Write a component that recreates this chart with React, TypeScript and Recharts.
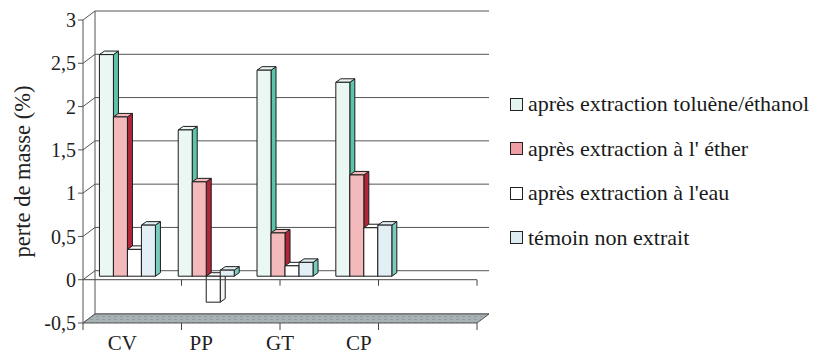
import React from 'react';
import { BarChart, Bar, XAxis, YAxis, CartesianGrid, ReferenceLine } from 'recharts';

const categories = ['CV', 'PP', 'GT', 'CP', ''];
const tolueneEthanol = [2.56, 1.69, 2.38, 2.24, null];
const ether = [1.84, 1.09, 0.5, 1.17, null];
const eau = [0.31, -0.3, 0.12, 0.56, null];
const temoin = [0.59, 0.07, 0.16, 0.59, null];
const yTicks = [-0.5, 0, 0.5, 1, 1.5, 2, 2.5, 3];
const boundaries = [0, 1, 2, 3, 4, 5];

const seriesNames = [
  'après extraction toluène/éthanol',
  "après extraction à l' éther",
  "après extraction à l'eau",
  'témoin non extrait',
];

const data = categories.map((name, i) => ({
  name,
  tol: tolueneEthanol[i],
  eth: ether[i],
  eau: eau[i],
  tem: temoin[i],
}));

const Y_MIN = -0.5;
const Y_MAX = 3;

// 3d look: back wall offset and bar depth
const DX = 12;
const DY = 9;
const BOX = 5;
const BOY = 3.5;
const BD = 5;
const BDH = 3.5;
const FONT = "'Liberation Serif', 'DejaVu Serif', Times, serif";

const series = [
  { key: 'tol', front: '#eaf7f3', side: '#5cc4ab', legend: '#e4f4ef' },
  { key: 'eth', front: '#f3b9bb', side: '#b3263a', legend: '#ee9ea4' },
  { key: 'eau', front: '#ffffff', side: '#f4f4f4', legend: '#ffffff' },
  { key: 'tem', front: '#e2eff5', side: '#78cbbd', legend: '#dcecf2' },
];

const bar3d = (front: string, side: string) => (props: any) => {
  const { x, y, width, height } = props;
  if (x == null || y == null || height == null || isNaN(height) || height === 0) return <g />;
  const t = Math.min(y, y + height) - BOY;
  const h = Math.abs(height);
  const l = x + BOX;
  const w = width;
  return (
    <g stroke="#1c1c1c" strokeWidth={1} strokeLinejoin="round">
      <polygon points={`${l + w},${t} ${l + w + BD},${t - BDH} ${l + w + BD},${t + h - BDH} ${l + w},${t + h}`} fill={side} />
      <polygon points={`${l},${t} ${l + BD},${t - BDH} ${l + w + BD},${t - BDH} ${l + w},${t}`} fill={front} />
      <rect x={l} y={t} width={w} height={h} fill={front} />
    </g>
  );
};

const gridLine = (p: any) => {
  const { x1, y1, x2, y2, key } = p;
  return (
    <path
      key={key}
      d={`M${x1},${y1} L${x1 + DX},${y1 - DY} L${x2 + DX},${y2 - DY}`}
      stroke="#555"
      strokeWidth={1}
      fill="none"
    />
  );
};

const floorShape = (p: any) => {
  const { x1, y1, x2, y2 } = p;
  return (
    <g>
      <defs>
        <pattern id="floorTex" width="6" height="3" patternUnits="userSpaceOnUse">
          <rect width="6" height="3" fill="#a8b1b3" />
          <rect x="0" y="1" width="3" height="1" fill="#929b9e" />
        </pattern>
      </defs>
      <polygon
        points={`${x1},${y1} ${x2},${y2} ${x2 + DX},${y2 - DY} ${x1 + DX},${y1 - DY}`}
        fill="url(#floorTex)"
        stroke="#555"
        strokeWidth={1}
      />
    </g>
  );
};

// vertical reference at a category boundary: back wall edge (first/last) and tick marks
const boundaryShape = (edge: boolean, zeroTick: boolean) => (p: any) => {
  const { x1, y1, y2 } = p;
  const top = Math.min(y1, y2);
  const bottom = Math.max(y1, y2);
  const yZero = bottom - ((0 - Y_MIN) / (Y_MAX - Y_MIN)) * (bottom - top);
  return (
    <g stroke="#444" strokeWidth={1}>
      {edge && <line x1={x1 + DX} y1={top - DY} x2={x1 + DX} y2={bottom - DY} stroke="#555" />}
      {zeroTick && <line x1={x1} y1={yZero} x2={x1} y2={yZero + 6} />}
      <line x1={x1} y1={bottom} x2={x1} y2={bottom + 7} />
    </g>
  );
};

const YLabel = (props: any) => {
  const { viewBox } = props;
  const cx = 22;
  const cy = viewBox.y + viewBox.height / 2;
  return (
    <text x={cx} y={cy} transform={`rotate(-90, ${cx}, ${cy})`} textAnchor="middle" dominantBaseline="central"
      fontFamily={FONT} fontSize={22.5} fill="#222">
      perte de masse (%)
    </text>
  );
};

export default function App() {
  return (
    <div style={{ position: 'absolute', left: 0, top: 0, width: 818, height: 360, background: '#fff', fontFamily: FONT }}>
      <BarChart
        width={818}
        height={360}
        data={data}
        margin={{ top: 20, right: 341, bottom: 0, left: 23 }}
        barCategoryGap="14.5%"
        barGap={0}
      >
        <CartesianGrid horizontal={gridLine} vertical={false} />
        <XAxis
          dataKey="name"
          axisLine={false}
          tickLine={false}
          height={37}
          tick={{ fill: '#222', fontSize: 21, fontFamily: FONT }}
          tickMargin={6}
        />
        <XAxis xAxisId="b" type="number" domain={[0, 5]} allowDataOverflow hide />
        <YAxis
          domain={[Y_MIN, Y_MAX]}
          ticks={yTicks}
          interval={0}
          width={60}
          axisLine={{ stroke: '#555' }}
          tickLine={{ stroke: '#555' }}
          tickSize={5}
          tickMargin={2}
          tick={{ fill: '#222', fontSize: 20, fontFamily: FONT }}
          tickFormatter={(v: number) => String(v).replace('.', ',')}
          label={<YLabel />}
        />
        <ReferenceLine y={0} stroke="#444" strokeWidth={1} />
        {boundaries.map((b, i) => (
          <ReferenceLine
            key={'b' + b}
            xAxisId="b"
            x={b}
            shape={boundaryShape(i === 0 || i === boundaries.length - 1, i > 0)}
          />
        ))}
        <ReferenceLine y={Y_MIN} shape={floorShape} />
        {series.map((s) => (
          <Bar key={s.key} dataKey={s.key} shape={bar3d(s.front, s.side)} isAnimationActive={false} />
        ))}
      </BarChart>
      <div style={{ position: 'absolute', left: 510, top: 91, fontFamily: FONT, fontSize: 22, color: '#1a1a1a' }}>
        {series.map((s, i) => (
          <div key={s.key} style={{ display: 'flex', alignItems: 'center', height: 26, marginBottom: i < 3 ? 18.5 : 0, whiteSpace: 'nowrap' }}>
            <span style={{ display: 'inline-block', width: 11, height: 11, border: '1.3px solid #222', background: s.legend, marginRight: 5 }} />
            {seriesNames[i]}
          </div>
        ))}
      </div>
    </div>
  );
}
